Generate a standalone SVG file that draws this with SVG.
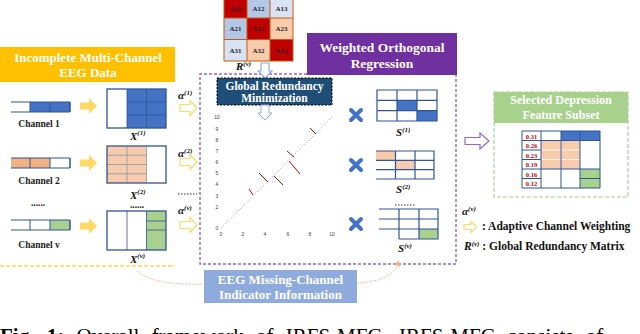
<svg xmlns="http://www.w3.org/2000/svg" width="640" height="334" viewBox="0 0 640 334">
<style>
.t{font-family:"Liberation Serif","Times New Roman",serif;font-weight:bold}
.hw{fill:#fff;font-size:13px;text-anchor:middle}
.ch{font-size:9.5px;fill:#222;text-anchor:middle}
.lbl{font-style:italic;font-size:11px;fill:#111}
.sup{font-size:7px}
.ln{fill:none;stroke:#2F5597;stroke-width:1}
.ob{fill:none;stroke:#2F5597;stroke-width:1.3}
.blue{fill:#4472C4}
.org{fill:#F8CBAD}
.org2{fill:#F4B183}
.grn{fill:#A9D18E}
.sa{fill:#FFD966}
.ha{fill:#fff;stroke:#FFD966;stroke-width:1.2}
.da{fill:#fff;stroke:#8FAADC;stroke-width:1.2}
.ax{font-family:"Liberation Sans",sans-serif;font-size:5px;fill:#444;text-anchor:middle}
.red{stroke:#C00000;stroke-width:1}
.cx{stroke:#4472C4;stroke-width:4;stroke-linecap:round;fill:none}
.rm{font-size:7px;fill:#222;text-anchor:middle}
.tv{font-size:6.5px;fill:#C00000;text-anchor:middle}
</style>
<defs>
<path id="ha" d="M0,-3.5H10V-7.5L17,0L10,7.5V3.5H0Z"/>
<path id="sa" d="M0,-3.5H9V-8L17,0L9,8V3.5H0Z"/>
<path id="da" d="M-4,0V8H-7L0,15L7,8H4V0Z"/>
<path id="cx" d="M-5,-5L5,5M5,-5L-5,5"/>
<marker id="mo" markerWidth="6" markerHeight="6" refX="3" refY="3" orient="auto"><path d="M0,0L6,3L0,6Z" fill="#F4B183"/></marker>
</defs>

<!-- left region -->
<g id="left-header">
<rect x="0" y="47" width="175" height="35" fill="#FFC000"/>
<text class="t hw" x="88" y="62">Incomplete Multi-Channel</text>
<text class="t hw" x="88" y="77">EEG Data</text>
</g>
<line x1="0" y1="266" x2="175" y2="266" stroke="#FFC000" stroke-width="1.2" stroke-dasharray="4,2"/>

<g id="channel1">
<rect x="30" y="102" width="40" height="10" class="blue"/>
<path d="M11,102H70V112H11M30,102V112M50,102V112M70,102V112" class="ln"/>
<text class="t ch" x="39" y="127">Channel 1</text>
</g>
<g id="channel2">
<rect x="11" y="158" width="39" height="10" class="org2"/>
<path d="M11,158H70V168H11M30,158V168M50,158V168M70,158V168" class="ln"/>
<text class="t ch" x="39" y="184">Channel 2</text>
</g>
<text class="t ch" x="38" y="206">......</text>
<g id="channelv">
<rect x="50" y="220" width="20" height="10" class="grn"/>
<path d="M11,220H70V230H11M30,220V230M50,220V230M70,220V230" class="ln"/>
<text class="t ch" x="39" y="248">Channel v</text>
</g>

<g id="solid-arrows">
<use href="#sa" x="80" y="106" class="sa"/>
<use href="#sa" x="80" y="163" class="sa"/>
<use href="#sa" x="80" y="226" class="sa"/>
</g>

<g id="X1">
<rect x="127" y="89" width="39" height="39" class="blue"/>
<path d="M127,89V128M146.5,89V128M127,102H166M127,115H166" stroke="#2F5597" stroke-width="0.8"/>
<rect x="107" y="89" width="59" height="39" class="ob"/>
<text class="t lbl" x="130" y="140">X<tspan class="sup" dy="-5">(1)</tspan></text>
</g>
<g id="X2">
<rect x="107" y="146" width="39.5" height="37" class="org"/>
<path d="M127,146V183M146.5,146V183M107,155.25H146.5M107,164.5H146.5M107,173.75H146.5" stroke="#8497B0" stroke-width="0.8"/>
<rect x="107" y="146" width="59" height="37" class="ob"/>
<text class="t lbl" x="130" y="199">X<tspan class="sup" dy="-5">(2)</tspan></text>
<text class="t ch" x="137" y="208">......</text>
</g>
<g id="Xv">
<rect x="146.5" y="211" width="19.5" height="39" class="grn"/>
<path d="M127,211V250M146.5,211V250M146.5,221H166M146.5,230H166" stroke="#2F5597" stroke-width="0.8"/>
<rect x="107" y="211" width="59" height="39" class="ob"/>
<text class="t lbl" x="130" y="263">X<tspan class="sup" dy="-5">(v)</tspan></text>
</g>

<g id="weights">
<text class="t lbl" x="178" y="99">α<tspan class="sup" dy="-4">(1)</tspan></text>
<use href="#ha" x="180" y="108" class="ha"/>
<text class="t lbl" x="178" y="157">α<tspan class="sup" dy="-4">(2)</tspan></text>
<use href="#ha" x="180" y="162" class="ha"/>
<line x1="178" y1="194" x2="197" y2="194" stroke="#333" stroke-width="1" stroke-dasharray="1.5,1.5"/>
<text class="t lbl" x="178" y="214">α<tspan class="sup" dy="-4">(v)</tspan></text>
<use href="#ha" x="180" y="225" class="ha"/>
</g>

<!-- R matrix -->
<g id="R-matrix">
<rect x="224" y="-3" width="23" height="21" fill="#C00000"/>
<rect x="247" y="-3" width="23" height="21" fill="#B4C7E7"/>
<rect x="270" y="-3" width="23" height="21" fill="#DAE3F3"/>
<rect x="224" y="18" width="23" height="21.5" fill="#B4C7E7"/>
<rect x="247" y="18" width="23" height="21.5" fill="#C00000"/>
<rect x="270" y="18" width="23" height="21.5" fill="#F8CBAD"/>
<rect x="224" y="39.5" width="23" height="21.5" fill="#DAE3F3"/>
<rect x="247" y="39.5" width="23" height="21.5" fill="#F8CBAD"/>
<rect x="270" y="39.5" width="23" height="21.5" fill="#C00000"/>
<path d="M224,-3V61H293V-3M247,-3V61M270,-3V61M224,18H293M224,39.5H293" fill="none" stroke="#C55A11" stroke-width="1"/>
<text class="t rm" x="235.5" y="11">A11</text><text class="t rm" x="258.5" y="11">A12</text><text class="t rm" x="281.5" y="11">A13</text>
<text class="t rm" x="235.5" y="31">A21</text><text class="t rm" x="258.5" y="31">A22</text><text class="t rm" x="281.5" y="31">A23</text>
<text class="t rm" x="235.5" y="53">A31</text><text class="t rm" x="258.5" y="53">A32</text><text class="t rm" x="281.5" y="53">A33</text>
<text class="t lbl" x="236" y="70">R<tspan class="sup" dy="-4">(v)</tspan></text>
</g>

<!-- purple region -->
<path d="M307,74H200V264H456V74" fill="none" stroke="#9966CC" stroke-width="1.4" stroke-dasharray="3,2"/>
<g id="wor-header">
<rect x="307" y="33" width="150" height="42" fill="#7030A0"/>
<text class="t hw" x="382" y="52" style="font-size:13.5px">Weighted Orthogonal</text>
<text class="t hw" x="382" y="68" style="font-size:13.5px">Regression</text>
</g>

<use href="#da" x="265" y="63" class="da"/>
<g id="global-redundancy">
<rect x="217" y="78" width="115" height="27" fill="#1F4E79" stroke="#000" stroke-width="1" stroke-dasharray="2,1.5"/>
<text class="t hw" x="274.5" y="90" style="font-size:11.5px">Global Redundancy</text>
<text class="t hw" x="274.5" y="102" style="font-size:11.5px">Minimization</text>
</g>
<use href="#da" x="265" y="105" class="da" style="stroke-width:1"/>

<g id="plot">
<text class="ax" x="217" y="119">10</text>
<text class="ax" x="217" y="131">9</text>
<text class="ax" x="217" y="142">8</text>
<text class="ax" x="217" y="153">7</text>
<text class="ax" x="217" y="164">6</text>
<text class="ax" x="217" y="175">5</text>
<text class="ax" x="217" y="186">4</text>
<text class="ax" x="217" y="198">3</text>
<text class="ax" x="217" y="209">2</text>
<text class="ax" x="217" y="230">0</text>
<text class="ax" x="221" y="236">0</text>
<text class="ax" x="243" y="236">2</text>
<text class="ax" x="265" y="236">4</text>
<text class="ax" x="288" y="236">6</text>
<text class="ax" x="310" y="236">8</text>
<text class="ax" x="332" y="236">10</text>
<line x1="221" y1="228" x2="332" y2="117" stroke="#8497B0" stroke-width="0.9" stroke-dasharray="1,2"/>
<line x1="249" y1="189" x2="253" y2="195" class="red"/>
<line x1="259" y1="173" x2="268" y2="182" class="red"/>
<line x1="274" y1="176" x2="283" y2="185" class="red"/>
<line x1="287" y1="151" x2="294" y2="157" class="red"/>
<line x1="289" y1="161" x2="300" y2="174" class="red"/>
<line x1="310" y1="128" x2="316" y2="134" class="red"/>
</g>

<g id="crosses">
<use href="#cx" x="356" y="115" class="cx"/>
<use href="#cx" x="356" y="165" class="cx"/>
<use href="#cx" x="356" y="224" class="cx"/>
</g>

<g id="S1">
<rect x="397" y="100.3" width="20" height="10.3" class="blue"/>
<rect x="417" y="110.6" width="20" height="10.4" class="blue"/>
<path d="M377,90H437V121H377ZM397,90V121M417,90V121M377,100.3H437M377,110.6H437" class="ln" style="stroke-width:1.2"/>
<text class="t lbl" x="396" y="136">S<tspan class="sup" dy="-4">(1)</tspan></text>
</g>
<g id="S2">
<rect x="376" y="151" width="19.5" height="9.3" class="org"/>
<rect x="395.5" y="160.3" width="19.5" height="9.3" class="org"/>
<path d="M376,151H434V179H376M395.5,151V179M415,151V179M434,151V179M376,160.3H434M376,169.6H434" class="ln" style="stroke-width:1.2"/>
<text class="t lbl" x="396" y="193">S<tspan class="sup" dy="-4">(2)</tspan></text>
<line x1="395" y1="205" x2="415" y2="205" stroke="#333" stroke-width="1" stroke-dasharray="1.5,1.5"/>
</g>
<g id="Sv">
<rect x="419" y="229" width="19" height="10" class="grn"/>
<path d="M379,209H438V239H399M379,219H438M379,229H438M399,209V239M419,209V239M438,209V239" class="ln" style="stroke-width:1.2"/>
<text class="t lbl" x="398" y="252">S<tspan class="sup" dy="-4">(v)</tspan></text>
</g>

<!-- right -->
<path d="M465,137.5H480V133L489,141L480,149V144.5H465Z" fill="#fff" stroke="#9966CC" stroke-width="1.2"/>
<g id="feature-subset">
<rect x="494" y="92" width="134" height="105" fill="none" stroke="#A9D18E" stroke-width="1.2" stroke-dasharray="4,2"/>
<rect x="494" y="92" width="134" height="31" fill="#A9D18E"/>
<text class="t hw" x="561" y="104" style="font-size:12px">Selected Depression</text>
<text class="t hw" x="561" y="119" style="font-size:12px">Feature Subset</text>
<rect x="561" y="131" width="39" height="9.5" class="blue"/>
<rect x="541" y="140.5" width="39" height="28.5" class="org"/>
<rect x="580" y="169" width="20" height="19" class="grn"/>
<path d="M541,150H580M541,159.5H580M561,140.5V169" stroke="#fff" stroke-width="0.8"/>
<path d="M522,131H600V188H522ZM541,131V188M561,131V188M580,131V188M522,140.5H580M522,150H541M522,159.5H541M522,169H600M522,178.5H541M580,178.5H600M541,140.5H600" class="ln"/>
<text class="t tv" x="531.5" y="138.5">0.31</text>
<text class="t tv" x="531.5" y="148">0.26</text>
<text class="t tv" x="531.5" y="157.5">0.23</text>
<text class="t tv" x="531.5" y="167">0.19</text>
<text class="t tv" x="531.5" y="176.5">0.16</text>
<text class="t tv" x="531.5" y="186">0.12</text>
</g>

<g id="legend">
<text class="t lbl" x="462" y="215">α<tspan class="sup" dy="-4">(v)</tspan></text>
<path d="M464,224.5H471V221.5L477,227L471,232.5V229.5H464Z" class="ha"/>
<text class="t" x="482" y="230" style="font-size:11.5px;fill:#111">: Adaptive Channel Weighting</text>
<text class="t" x="464" y="250" style="font-size:11.5px;fill:#111"><tspan font-style="italic">R</tspan><tspan class="sup" font-style="italic" dy="-4">(v)</tspan><tspan dy="4"> : Global Redundancy Matrix</tspan></text>
</g>

<g id="connectors">
<path d="M137,271C150,283 180,285 204,284" fill="none" stroke="#F4B183" stroke-width="1" stroke-dasharray="1.5,1.5"/>
<path d="M357,283C380,282 394,276 398,263" fill="none" stroke="#F4B183" stroke-width="1" stroke-dasharray="1.5,1.5" marker-end="url(#mo)"/>
</g>
<g id="missing-info">
<rect x="204" y="270" width="153" height="33" fill="#8FAADC"/>
<text class="t hw" x="280.5" y="284" style="font-size:13px">EEG Missing-Channel</text>
<text class="t hw" x="280.5" y="299" style="font-size:13px">Indicator Information</text>
</g>

<text class="t" x="0" y="343" style="font-size:21px;fill:#000" word-spacing="7">Fig. 1: <tspan font-weight="normal">Overall framework of IRFS-MFC. IRFS-MFC consists of</tspan></text>
</svg>
